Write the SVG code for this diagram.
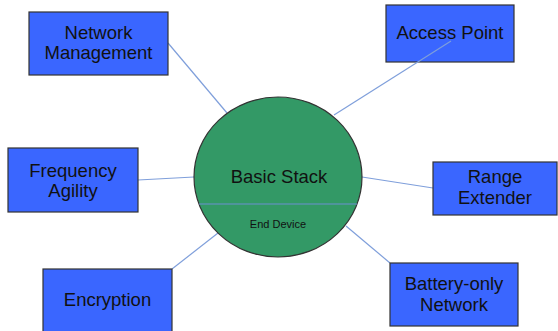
<svg xmlns="http://www.w3.org/2000/svg" width="558" height="331" viewBox="0 0 558 331">
<style>
.box{fill:#3a66ff;stroke:#333;stroke-width:1.2}
.lbl{font-family:"Liberation Sans",Arial,sans-serif;font-size:18.5px;fill:#111;text-anchor:middle}
.conn{stroke:#7f9fdb;stroke-width:1.2;fill:none}
</style>
<rect width="558" height="331" fill="#fff"/>
<g id="connectors">
<line class="conn" x1="168" y1="43" x2="227" y2="113"/>
<line class="conn" x1="138" y1="180" x2="194" y2="177"/>
<line class="conn" x1="172" y1="269" x2="218" y2="233"/>
<line class="conn" x1="362" y1="177" x2="433" y2="188"/>
<line class="conn" x1="346" y1="226" x2="390" y2="263"/>
</g>
<g id="basic-stack">
<ellipse cx="278" cy="177" rx="84" ry="80" fill="#339966" stroke="#333" stroke-width="1.2"/>
<line x1="199" y1="204" x2="357" y2="204" stroke="#6d8fd0" stroke-width="1"/>
<text class="lbl" x="279" y="183">Basic Stack</text>
<text x="278" y="228" font-family="Liberation Sans, Arial, sans-serif" font-size="11" fill="#111" text-anchor="middle">End Device</text>
</g>
<g id="network-management">
<rect class="box" x="29" y="12" width="139" height="63"/>
<text class="lbl" x="98.5" y="39">Network</text>
<text class="lbl" x="98.5" y="59">Management</text>
</g>
<g id="access-point">
<rect class="box" x="386" y="5" width="128" height="57"/>
<text class="lbl" x="450" y="39">Access Point</text>
</g>
<g id="frequency-agility">
<rect class="box" x="8" y="148" width="130" height="64"/>
<text class="lbl" x="73" y="177">Frequency</text>
<text class="lbl" x="73" y="197">Agility</text>
</g>
<g id="encryption">
<rect class="box" x="43" y="269" width="129" height="66"/>
<text class="lbl" x="107.5" y="306">Encryption</text>
</g>
<g id="range-extender">
<rect class="box" x="433" y="162" width="124" height="53"/>
<text class="lbl" x="495" y="183">Range</text>
<text class="lbl" x="495" y="204">Extender</text>
</g>
<g id="battery-only-network">
<rect class="box" x="390" y="263" width="128" height="63"/>
<text class="lbl" x="454" y="290">Battery-only</text>
<text class="lbl" x="454" y="311">Network</text>
</g>
<g id="connector-access-point">
<line class="conn" x1="334" y1="115" x2="451" y2="41"/>
</g>
</svg>
